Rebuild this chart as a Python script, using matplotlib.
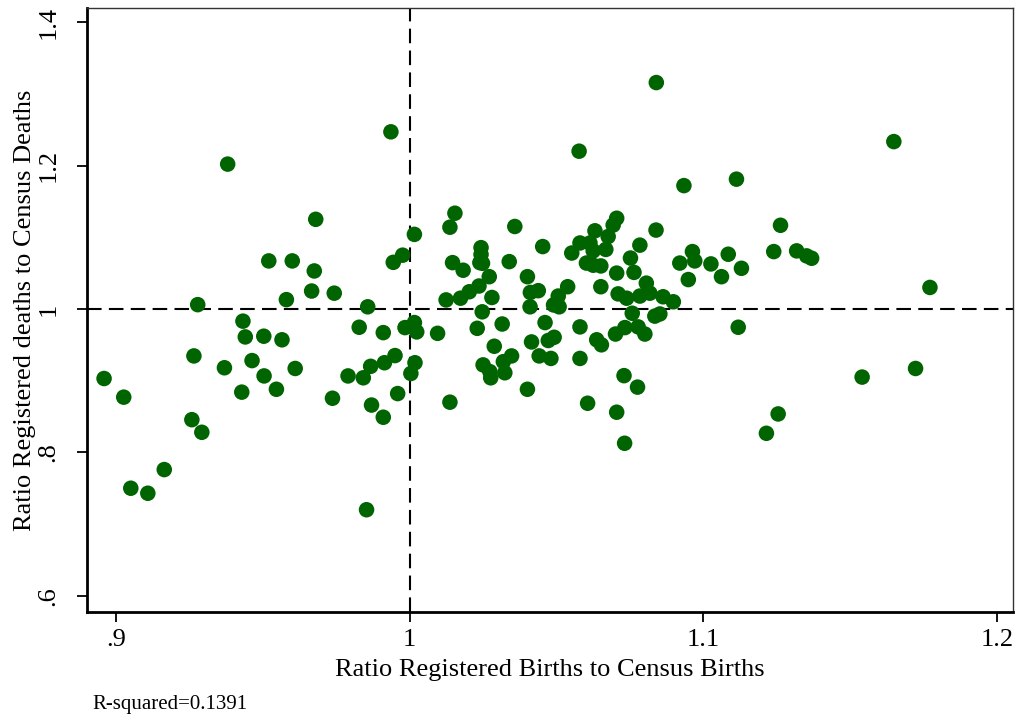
import numpy as np
import matplotlib
matplotlib.use('Agg')
import matplotlib.pyplot as plt

#ratio registered births to census births
births_ratio=[0.938,0.968,0.952,0.960,0.9675,0.9666,0.9743,0.958,0.9278,0.9857,
              1.0016,0.9976,0.9944,0.9432,0.944,0.9503,0.9565,0.9828,0.991,0.9984,
              1.0016,1.0024,0.9265,0.9369,0.9463,0.961,0.995,0.9914,0.9867,1.0018,
              0.8959,0.9026,0.9428,0.9504,0.9546,0.9258,0.9292,0.9164,0.905,0.9108,
              0.9737,0.979,0.9842,0.9959,0.987,0.991,1.0004,0.9853,0.9936,
              1.0154,1.0137,1.0358,1.0453,1.0631,1.0705,1.0693,1.0676,1.0839,1.0784,
              1.0243,1.0243,1.0239,1.0248,1.0146,1.0182,1.0339,1.0401,1.0271,1.0236,
              1.0203,1.0173,1.0124,1.028,1.0247,1.0411,1.0438,1.041,1.0506,1.050,
              1.049,1.0509,1.0538,1.0461,1.0315,1.023,1.0095,1.058,1.0415,1.0472,
              1.0492,1.0288,1.0347,1.0319,1.025,1.0273,1.0276,1.0324,1.0441,1.0481,
              1.058,1.0401,1.0137,1.0606,1.0705,1.073,1.0776,1.0637,1.0653,1.0701,
              1.0733,1.0758,1.0778,1.0801,1.0835,1.0852,1.0651,1.0705,1.0764,1.0752,
              1.0806,1.071,1.0739,1.0784,1.0818,1.0863,1.0898,1.0552,1.058,1.0614,
              1.0625,1.0668,1.0602,1.0625,1.0651,1.092,1.0949,1.0963,1.0971,1.084,
              1.0577,1.0934,1.1113,1.1263,1.1026,1.1085,1.1062,1.113,1.124,1.1318,
              1.1352,1.1369,1.1772,1.1119,1.1649,1.1723,1.1541,1.1255,1.1215,1.0732]

#ratio registered deaths to census deaths
deaths_ratio=[1.202,1.125,1.067,1.067,1.053,1.025,1.022,1.013,1.006,1.003,
              1.104,1.075,1.065,0.983,0.961,0.962,0.957,0.9745,0.967,0.974,
              0.981,0.968,0.9345,0.918,0.928,0.917,0.935,0.925,0.920,0.925,
              0.903,0.877,0.884,0.9066,0.888,0.8456,0.828,0.776,0.750,0.743,
              0.8755,0.9066,0.904,0.882,0.866,0.849,0.910,0.720,1.247,
              1.1335,1.114,1.115,1.087,1.109,1.1265,1.117,1.101,1.110,1.089,
              1.0855,1.076,1.0646,1.0637,1.0646,1.054,1.066,1.045,1.045,1.032,
              1.024,1.015,1.0126,1.016,0.996,1.023,1.0255,1.003,1.018,1.008,
              1.0056,1.003,1.031,0.981,0.979,0.973,0.966,0.975,0.954,0.956,
              0.9605,0.948,0.9345,0.9265,0.922,0.9126,0.904,0.911,0.9345,0.931,
              0.931,0.888,0.870,0.8685,0.856,0.907,0.891,0.957,0.950,0.965,
              0.974,0.994,0.975,0.965,0.990,0.993,1.031,1.050,1.051,1.071,
              1.036,1.021,1.015,1.018,1.022,1.017,1.010,1.078,1.092,1.092,
              1.081,1.083,1.064,1.061,1.060,1.064,1.041,1.080,1.067,1.3157,
              1.220,1.172,1.181,1.1167,1.0628,1.0763,1.045,1.0567,1.080,1.081,
              1.074,1.0707,1.030,0.9745,1.2334,0.917,0.905,0.8536,0.8266,0.8127]

x_ticks=[0.9,1.0,1.1,1.2]
x_tick_labels=['.9','1','1.1','1.2']
y_ticks=[0.6,0.8,1.0,1.2,1.4]
y_tick_labels=['.6','.8','1','1.2','1.4']

r_squared_text='R-squared=0.1391'

plt.rcParams['font.family']=['Liberation Serif','DejaVu Serif']

figure=plt.figure(figsize=(10.24,7.2),dpi=100)
ax=figure.add_axes([0.085,0.15,0.904,0.839])

#reference lines
ax.axvline(1.0,color='black',linestyle=(0,(7,3.5)),linewidth=1.5,zorder=1)
ax.axhline(1.0,color='black',linestyle=(0,(7,3.5)),linewidth=1.5,zorder=1)

#scatter
ax.scatter(births_ratio,deaths_ratio,s=125,color='#006400',edgecolors='none',zorder=2)

ax.set_xlim(0.8901,1.2054)
ax.set_ylim(0.5774,1.4198)

ax.set_xticks(x_ticks)
ax.set_xticklabels(x_tick_labels)
ax.set_yticks(y_ticks)
ax.set_yticklabels(y_tick_labels,rotation=90,va='center')

ax.tick_params(axis='both',direction='out',length=7,width=1.3,labelsize=19)
ax.tick_params(axis='x',pad=5)
ax.tick_params(axis='y',pad=13)

#decoration
ax.spines['left'].set_linewidth(2)
ax.spines['bottom'].set_linewidth(2)
ax.spines['top'].set_linewidth(1)
ax.spines['right'].set_linewidth(1)
ax.spines['top'].set_color('#333333')
ax.spines['right'].set_color('#333333')

ax.set_xlabel('Ratio Registered Births to Census Births',fontsize=19,labelpad=6)
ax.set_ylabel('Ratio Registered deaths to Census Deaths',fontsize=19,labelpad=1)

figure.text(0.09,0.008,r_squared_text,fontsize=15,ha='left',va='bottom')

figure.savefig('out.png',dpi=100)
plt.close()
